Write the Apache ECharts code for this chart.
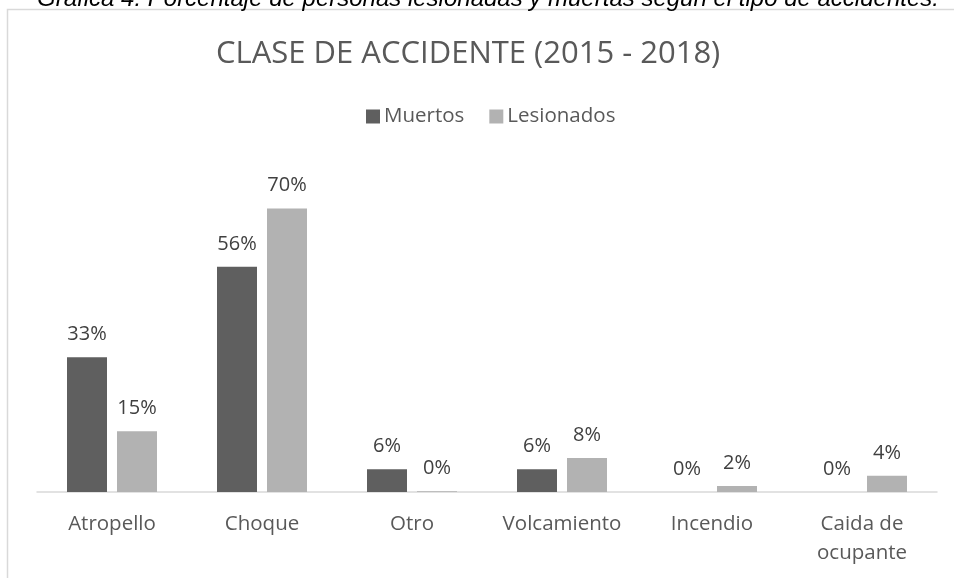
<!DOCTYPE html>
<html>
<head>
<meta charset="utf-8">
<script src="https://cdn.jsdelivr.net/npm/echarts@6/dist/echarts.min.js"></script>
<style>
html,body{margin:0;padding:0;background:#fff;}
#chart{width:954px;height:578px;}
</style>
</head>
<body>
<div id="chart"></div>
<script>
const categories = ['Atropello', 'Choque', 'Otro', 'Volcamiento', 'Incendio', 'Caida de\nocupante'];
const muertos = [33.3, 55.6, 5.6, 5.6, 0, 0];
const lesionados = [15.0, 70.0, 0.2, 8.4, 1.5, 4.0];
const seriesNames = ['Muertos', 'Lesionados'];
const titleText = 'CLASE DE ACCIDENTE (2015 - 2018)';
const captionText = 'Gráfica 4. Porcentaje de personas lesionadas y muertas según el tipo de accidentes.';

const chart = echarts.init(document.getElementById('chart'), null, {renderer: 'canvas'});
const fontFam = '"Open Sans", sans-serif';
const labelCfg = {
  show: true, position: 'top', distance: 13,
  color: '#404040', fontSize: 20, fontFamily: fontFam,
  formatter: p => Math.round(p.value) + '%'
};
chart.setOption({
  animation: false,
  backgroundColor: '#fff',
  title: {
    text: titleText, left: 211, top: 34,
    textStyle: {fontSize: 31, fontWeight: 'normal', color: '#595959', fontFamily: fontFam}
  },
  legend: {
    top: 101, left: 361, itemWidth: 14, itemHeight: 14, itemGap: 25,
    icon: 'rect',
    textStyle: {fontSize: 20.5, color: '#595959', fontFamily: fontFam, padding: [0,0,0,-1]},
    data: seriesNames
  },
  graphic: [
    {type: 'rect', shape: {x: 7.5, y: 9.5, width: 1000, height: 700}, style: {fill: null, stroke: '#d9d9d9', lineWidth: 1.5}, silent: true},
    {type: 'text', x: 488, y: -13, style: {text: captionText, font: 'italic 24px "Liberation Sans", Arial, sans-serif', fill: '#000', textAlign: 'center', textVerticalAlign: 'top'}}
  ],
  grid: {left: 37, right: 17, top: 168, bottom: 86, containLabel: false},
  xAxis: {
    type: 'category', data: categories,
    axisLine: {lineStyle: {color: '#d9d9d9', width: 1.5}},
    axisTick: {show: false},
    axisLabel: {color: '#595959', fontSize: 20.5, fontFamily: fontFam, margin: 18, lineHeight: 29, interval: 0}
  },
  yAxis: {type: 'value', min: 0, max: 80, show: false, splitLine: {show: false}},
  series: [
    {name: seriesNames[0], type: 'bar', data: muertos, barWidth: 40, barGap: '25%', barCategoryGap: '40%',
     itemStyle: {color: '#5f5f5f'}, label: labelCfg},
    {name: seriesNames[1], type: 'bar', data: lesionados, barWidth: 40,
     itemStyle: {color: '#b2b2b2'}, label: labelCfg}
  ]
});
</script>
</body>
</html>
